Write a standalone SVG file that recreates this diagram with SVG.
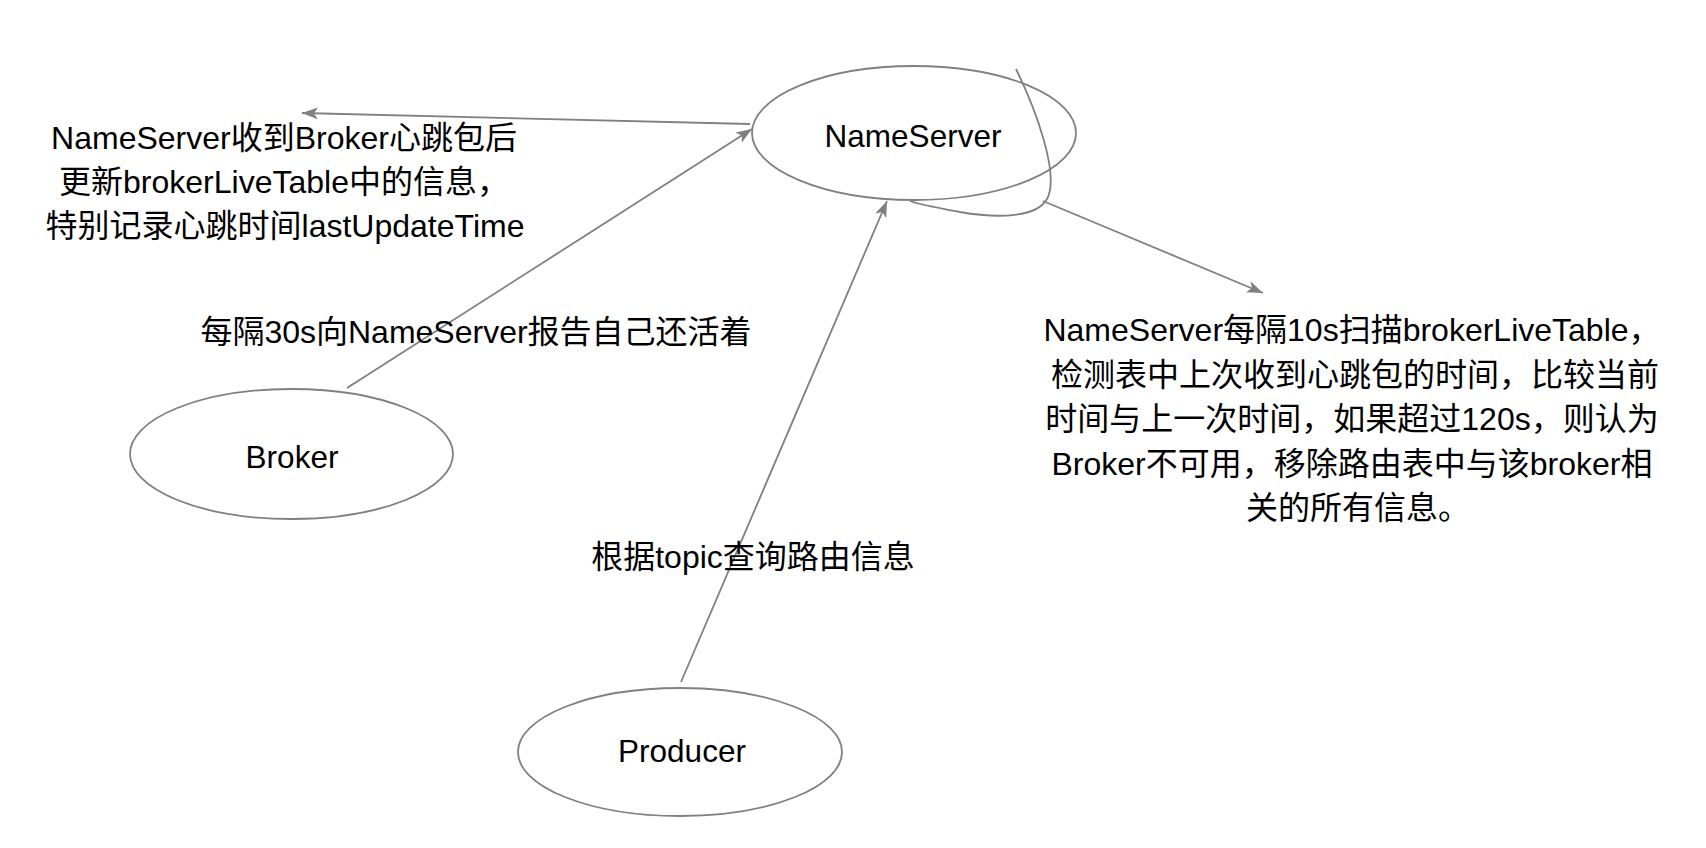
<svg xmlns="http://www.w3.org/2000/svg" width="1706" height="848" viewBox="0 0 1706 848">
<style>
.node{fill:#ffffff;stroke:#808080;stroke-width:1.8}
.edge{fill:none;stroke:#808080;stroke-width:1.8}
.lbl{font-family:"Liberation Sans","Noto Sans CJK SC",sans-serif;font-size:31.5px;fill:#000;text-anchor:middle}
.txt{font-family:"Liberation Sans","Noto Sans CJK SC",sans-serif;font-size:32px;fill:#000;text-anchor:middle}
</style>
<defs>
<marker id="arr" viewBox="0 0 16 12" refX="16" refY="6" markerWidth="16" markerHeight="12" markerUnits="userSpaceOnUse" orient="auto">
<path d="M0,0 L16,6 L0,12 L4,6 Z" fill="#808080"/>
</marker>
</defs>
<rect width="1706" height="848" fill="#ffffff"/>
<g id="nameserver">
<ellipse class="node" cx="914" cy="133" rx="162" ry="67"/>
<text class="lbl" x="913" y="147">NameServer</text>
</g>
<g id="broker">
<ellipse class="node" cx="291.5" cy="454" rx="161.5" ry="65"/>
<text class="lbl" x="292" y="468">Broker</text>
</g>
<g id="producer">
<ellipse class="node" cx="680" cy="752" rx="162" ry="64"/>
<text class="lbl" x="682" y="762">Producer</text>
</g>
<g id="connectors">
<line class="edge" x1="750" y1="124" x2="302" y2="113" marker-end="url(#arr)"/>
<line class="edge" x1="347" y1="388" x2="752" y2="129" marker-end="url(#arr)"/>
<line class="edge" x1="681" y1="682" x2="887" y2="201" marker-end="url(#arr)"/>
<path class="edge" d="M1016,69 C1036,110 1060,175 1047,199 C1037,217 1000,219 960,212 C940,208 920,205 910,201"/>
<line class="edge" x1="1043" y1="201" x2="1263" y2="293" marker-end="url(#arr)"/>
</g>
<g id="label-update">
<text class="txt" x="284" y="149">NameServer收到Broker心跳包后</text>
<text class="txt" x="284" y="193">更新brokerLiveTable中的信息，</text>
<text class="txt" x="285" y="237">特别记录心跳时间lastUpdateTime</text>
</g>
<g id="label-report">
<text class="txt" x="476" y="343">每隔30s向NameServer报告自己还活着</text>
</g>
<g id="label-topic">
<text class="txt" x="753" y="568">根据topic查询路由信息</text>
</g>
<g id="label-scan">
<text class="txt" x="1352" y="341">NameServer每隔10s扫描brokerLiveTable，</text>
<text class="txt" x="1355" y="385.5">检测表中上次收到心跳包的时间，比较当前</text>
<text class="txt" x="1352" y="430">时间与上一次时间，如果超过120s，则认为</text>
<text class="txt" x="1352" y="474.5">Broker不可用，移除路由表中与该broker相</text>
<text class="txt" x="1358" y="519">关的所有信息。</text>
</g>
</svg>
